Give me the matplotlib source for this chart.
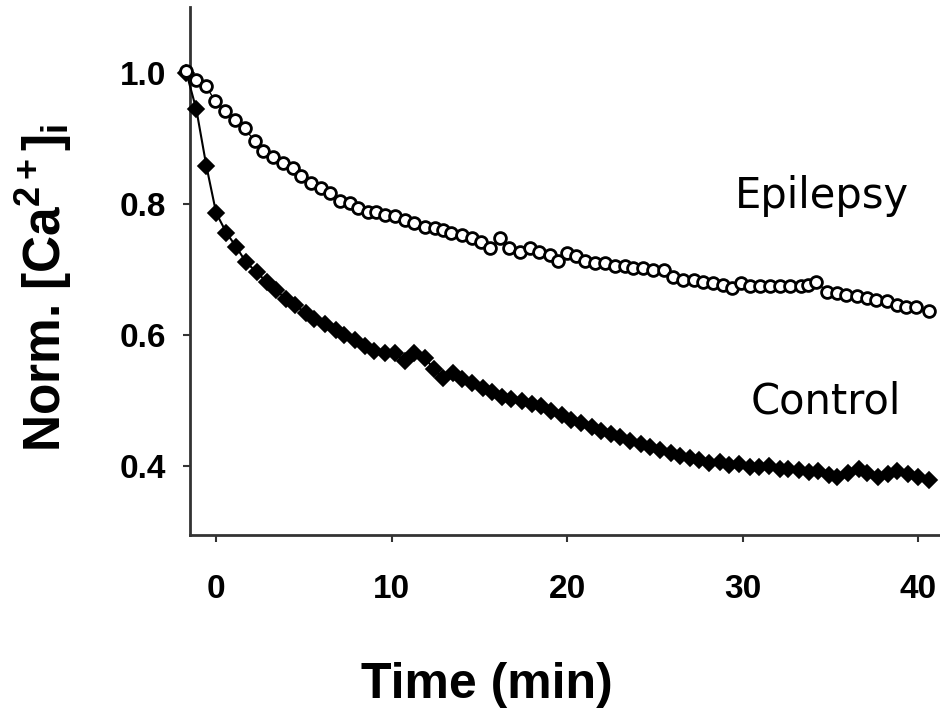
import matplotlib
matplotlib.use("Agg")
import matplotlib.pyplot as plt

plt.rcParams['mathtext.fontset'] = 'custom'
plt.rcParams['mathtext.rm'] = 'Liberation Sans:bold'
plt.rcParams['mathtext.bf'] = 'Liberation Sans:bold'
plt.rcParams['mathtext.it'] = 'Liberation Sans:bold'

# Epilepsy (open circles)
time_epi = [-1.70, -1.13, -0.56, -0.05, 0.48, 1.05, 1.62, 2.19, 2.67, 3.24,
            3.81, 4.38, 4.85, 5.42, 5.99, 6.46, 7.04, 7.61, 8.08, 8.65,
            9.10, 9.6, 10.2, 10.76, 11.3, 11.9, 12.47, 12.94, 13.4, 14.0,
            14.56, 15.1, 15.6, 16.2, 16.7, 17.3, 17.9, 18.4, 19.0, 19.5,
            20.0, 20.5, 21.0, 21.6, 22.15, 22.7, 23.3, 23.77, 24.3, 24.9,
            25.5, 26.0, 26.6, 27.2, 27.75, 28.3, 28.9, 29.4, 29.9, 30.4,
            31.0, 31.55, 32.1, 32.7, 33.3, 33.7, 34.2, 34.8, 35.4, 35.9,
            36.5, 37.1, 37.6, 38.2, 38.8, 39.3, 39.9, 40.6]
epilepsy = [1.002, 0.989, 0.979, 0.956, 0.941, 0.928, 0.916, 0.895, 0.880, 0.872,
            0.862, 0.855, 0.842, 0.832, 0.824, 0.816, 0.804, 0.801, 0.793, 0.788,
            0.788, 0.783, 0.781, 0.776, 0.771, 0.765, 0.763, 0.760, 0.755, 0.753,
            0.748, 0.742, 0.732, 0.748, 0.732, 0.727, 0.732, 0.727, 0.722, 0.712,
            0.725, 0.720, 0.712, 0.710, 0.710, 0.705, 0.705, 0.702, 0.702, 0.699,
            0.699, 0.689, 0.684, 0.684, 0.681, 0.679, 0.676, 0.671, 0.679, 0.674,
            0.674, 0.674, 0.674, 0.674, 0.674, 0.676, 0.681, 0.666, 0.664, 0.661,
            0.659, 0.656, 0.653, 0.651, 0.646, 0.643, 0.643, 0.636]

# Control (filled diamonds)
time_ctl = [-1.7, -1.13, -0.56, 0.0, 0.58, 1.15, 1.7, 2.3, 2.9, 3.4,
            4.0, 4.5, 5.1, 5.6, 6.2, 6.8, 7.3, 7.9, 8.5, 9.0,
            9.6, 10.2, 10.75, 11.3, 11.9, 12.4, 12.9, 13.5, 14.0, 14.6,
            15.2, 15.7, 16.3, 16.8, 17.4, 18.0, 18.5, 19.1, 19.7, 20.2,
            20.8, 21.4, 21.9, 22.5, 23.0, 23.6, 24.2, 24.7, 25.3, 25.9,
            26.4, 27.0, 27.5, 28.1, 28.7, 29.2, 29.8, 30.4, 30.9, 31.5,
            32.1, 32.6, 33.2, 33.8, 34.3, 34.9, 35.4, 36.0, 36.6, 37.1,
            37.7, 38.3, 38.8, 39.4, 40.0, 40.6]
control = [1.000, 0.944, 0.858, 0.786, 0.756, 0.734, 0.711, 0.696, 0.680, 0.668,
           0.655, 0.645, 0.634, 0.624, 0.616, 0.607, 0.600, 0.592, 0.583, 0.575,
           0.572, 0.572, 0.560, 0.572, 0.565, 0.548, 0.534, 0.542, 0.533, 0.526,
           0.519, 0.513, 0.506, 0.502, 0.499, 0.495, 0.491, 0.484, 0.478, 0.470,
           0.465, 0.459, 0.454, 0.449, 0.444, 0.438, 0.433, 0.429, 0.424, 0.420,
           0.415, 0.412, 0.409, 0.405, 0.406, 0.401, 0.403, 0.399, 0.398, 0.400,
           0.396, 0.395, 0.394, 0.391, 0.392, 0.387, 0.383, 0.390, 0.396, 0.390,
           0.384, 0.388, 0.393, 0.388, 0.384, 0.379]

x_ticks = [0, 10, 20, 30, 40]
x_ticklabels = ["0", "10", "20", "30", "40"]
y_ticks = [0.4, 0.6, 0.8, 1.0]
y_ticklabels = ["0.4", "0.6", "0.8", "1.0"]

fig = plt.figure(figsize=(9.4, 7.15), dpi=100)
ax = fig.add_axes([190/940, 1-535/715, 750/940, 528/715])

ax.plot(time_ctl, control, color='black', lw=1.5, marker='D', markersize=8,
        markerfacecolor='black', markeredgecolor='black', markeredgewidth=1.2,
        zorder=3, clip_on=False)
ax.plot(time_epi, epilepsy, color='black', lw=1.0, marker='o', markersize=8.5,
        markerfacecolor='white', markeredgecolor='black', markeredgewidth=2.0,
        zorder=4, clip_on=False)

ax.set_xlim(-1.49, 41.24)
ax.set_ylim(0.295, 1.10)

for s in ['top', 'right']:
    ax.spines[s].set_visible(False)
for s in ['left', 'bottom']:
    ax.spines[s].set_linewidth(2.0)
    ax.spines[s].set_color('#333333')

ax.set_xticks(x_ticks)
ax.set_xticklabels(x_ticklabels)
ax.set_yticks(y_ticks)
ax.set_yticklabels(y_ticklabels)
ax.tick_params(axis='x', length=5, width=1.5, color='#333333', pad=23)
ax.tick_params(axis='y', length=5, width=1.5, color='#333333', pad=12)
for lab in ax.get_xticklabels() + ax.get_yticklabels():
    lab.set_fontfamily('Liberation Sans')
    lab.set_fontweight('bold')
    lab.set_fontsize(24)

ax.text(34.5, 0.794, "Epilepsy", family='DejaVu Sans', fontsize=30,
        ha='center', va='baseline')
ax.text(34.75, 0.481, "Control", family='DejaVu Sans', fontsize=30,
        ha='center', va='baseline')

fig.text(487/940, 1-685/715, "Time (min)", family='Liberation Sans',
         fontweight='bold', fontsize=36, ha='center', va='center')
fig.text(44/940, 1-288/715, r"Norm. [Ca$^{\mathrm{2+}}$]$_{\mathrm{i}}$",
         family='Liberation Sans', fontweight='bold', fontsize=37,
         rotation=90, ha='center', va='center')

fig.savefig("out.png", dpi=100)
